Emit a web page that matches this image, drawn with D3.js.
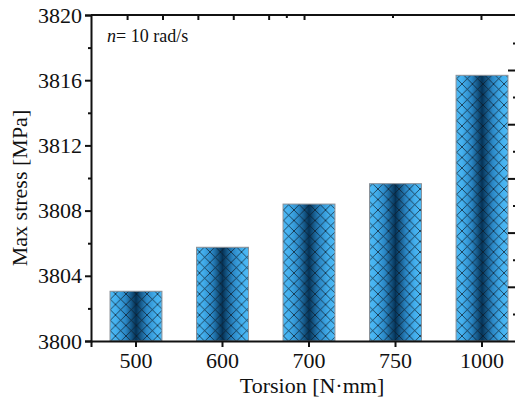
<!DOCTYPE html>
<html>
<head>
<meta charset="utf-8">
<script src="https://cdn.jsdelivr.net/npm/d3@7"></script>
<style>
  body { margin: 0; background: #fff; }
  svg text { font-family: "Liberation Serif", "Times New Roman", serif; fill: #111; }
</style>
</head>
<body>
<div id="chart"></div>
<script>
// data
const categories = ["500", "600", "700", "750", "1000"];
const maxStress = [3803.05, 3805.75, 3808.4, 3809.65, 3816.3];
const yTicks = [3800, 3804, 3808, 3812, 3816, 3820];
const yMinorTicks = [3802, 3806, 3810, 3814, 3818];
// stray ticks of the neighbouring panel (top and right edges)
const topMajorTicks = [0, 1, 2, 3, 4, 5, 10];
const topMinorTicks = [4.5, 7.5];
const rightMajorTicks = [2, 4, 6, 8, 10];
const rightMinorTicks = [1, 3, 5, 7, 9, 11];

const W = 515, H = 402;
const plotLeft = 91, plotTop = 15, plotBottom = 341, plotRight = 527, rightEdge = 516;

const svg = d3.select("#chart")
    .append("svg")
    .attr("width", W)
    .attr("height", H);

const defs = svg.append("defs");

// Horizontal light-dark-light gradient for bars
const grad = defs.append("linearGradient")
    .attr("id", "barGrad")
    .attr("x1", 0).attr("x2", 1).attr("y1", 0).attr("y2", 0);
[[0, "#4dbaf6"], [0.12, "#44b0ee"], [0.3, "#2a86c4"], [0.5, "#053357"], [0.7, "#2a86c4"], [0.88, "#44b0ee"], [1, "#4dbaf6"]]
    .forEach(([o, c]) => grad.append("stop").attr("offset", o).attr("stop-color", c));

// Cross-hatch pattern
const hatch = defs.append("pattern")
    .attr("id", "hatch")
    .attr("patternUnits", "userSpaceOnUse")
    .attr("width", 10.5)
    .attr("height", 10.5);
hatch.append("path")
    .attr("d", "M0,0 L10.5,10.5 M10.5,0 L0,10.5")
    .attr("stroke", "#0d1a26")
    .attr("stroke-width", 0.9)
    .attr("stroke-opacity", 0.8);

// Scales
const x = d3.scaleBand()
    .domain(categories)
    .range([plotLeft, plotRight])
    .paddingInner(0.4)
    .paddingOuter(0.22);

const y = d3.scaleLinear()
    .domain([3800, 3820])
    .range([plotBottom, plotTop]);

const xTop = d3.scaleLinear().domain([-1.02, 10.99]).range([plotLeft, rightEdge]);
const yRight = d3.scaleLinear().domain([0, 12.03]).range([plotBottom, plotTop]);

// Bars
const bars = svg.append("g");
categories.forEach((c, i) => {
    const bx = x(c), bw = x.bandwidth(), by = y(maxStress[i]);
    bars.append("rect")
        .attr("x", bx).attr("y", by)
        .attr("width", bw).attr("height", plotBottom - by)
        .attr("fill", "url(#barGrad)");
    bars.append("rect")
        .attr("x", bx).attr("y", by)
        .attr("width", bw).attr("height", plotBottom - by)
        .attr("fill", "url(#hatch)")
        .attr("stroke", "#8a8f96")
        .attr("stroke-width", 1);
});

// Left axis
svg.append("g")
    .attr("transform", `translate(${plotLeft},0)`)
    .call(d3.axisLeft(y).tickValues(yTicks).tickSize(6).tickPadding(3).tickFormat(d3.format("d")));
svg.append("g")
    .attr("transform", `translate(${plotLeft},0)`)
    .call(d3.axisLeft(y).tickValues(yMinorTicks).tickSize(3).tickFormat(""))
    .call(g => g.select(".domain").remove());

// Bottom axis
svg.append("g")
    .attr("transform", `translate(0,${plotBottom})`)
    .call(d3.axisBottom(x).tickSize(6).tickPadding(5));

// Top frame with stray ticks
svg.append("line")
    .attr("x1", plotLeft).attr("x2", W).attr("y1", plotTop).attr("y2", plotTop)
    .attr("stroke", "#111").attr("stroke-width", 2);
svg.append("g")
    .attr("transform", `translate(0,${plotTop})`)
    .call(d3.axisTop(xTop).tickValues(topMajorTicks).tickSize(-5).tickFormat(""))
    .call(g => g.select(".domain").remove());
svg.append("g")
    .attr("transform", `translate(0,${plotTop})`)
    .call(d3.axisTop(xTop).tickValues(topMinorTicks).tickSize(-3).tickFormat(""))
    .call(g => g.select(".domain").remove());

// Right stray ticks (inward)
svg.append("g")
    .attr("transform", `translate(${rightEdge},0)`)
    .call(d3.axisRight(yRight).tickValues(rightMajorTicks).tickSize(-8).tickFormat(""))
    .call(g => g.select(".domain").remove());
svg.append("g")
    .attr("transform", `translate(${rightEdge},0)`)
    .call(d3.axisRight(yRight).tickValues(rightMinorTicks).tickSize(-3).tickFormat(""))
    .call(g => g.select(".domain").remove());

// Axis styling
svg.selectAll(".domain").attr("stroke", "#111").attr("stroke-width", 2);
svg.selectAll(".tick line").attr("stroke", "#111").attr("stroke-width", 2);
svg.selectAll(".tick text")
    .attr("font-size", "22px")
    .style("font-family", "'Liberation Serif', 'Times New Roman', serif")
    .attr("fill", "#111");

// Axis titles
svg.append("text")
    .attr("transform", `translate(27,${(plotTop + plotBottom) / 2 + 10}) rotate(-90)`)
    .attr("text-anchor", "middle")
    .attr("font-size", "22px")
    .text("Max stress [MPa]");

svg.append("text")
    .attr("x", 312)
    .attr("y", 393)
    .attr("text-anchor", "middle")
    .attr("font-size", "22px")
    .text("Torsion [N\u00B7mm]");

// Annotation
const ann = svg.append("text")
    .attr("x", 107)
    .attr("y", 42)
    .attr("font-size", "18px");
ann.append("tspan").attr("font-style", "italic").text("n");
ann.append("tspan").text("= 10 rad/s");
</script>
</body>
</html>
